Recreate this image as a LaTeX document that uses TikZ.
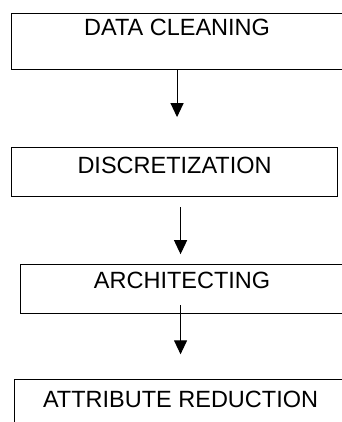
\documentclass[tikz,border=0pt]{standalone}
\usepackage{fontspec}
\setmainfont{Liberation Sans}
\usetikzlibrary{positioning,arrows.meta}

\tikzset{
  stage/.style={draw, rectangle, line width=1.1pt, inner sep=0pt,
    font=\fontsize{23.5}{28}\selectfont},
  flow/.style={draw, line width=1.1pt, -{Triangle[width=13pt,length=14pt]}}
}

\begin{document}
\begin{tikzpicture}[x=1pt, y=-1pt]

  \useasboundingbox (0,0) rectangle (341,422);

  \node[stage, minimum width=331pt, text height=21.5pt, text depth=34.5pt,
    anchor=north west] (clean) at (11,13) {DATA CLEANING};
  \node[stage, minimum width=326pt, text height=26pt, text depth=23pt]
    (discr) [below=77pt of clean.south west, anchor=north west] {DISCRETIZATION};
  \node[stage, minimum width=323pt, text height=24pt, text depth=25pt]
    (arch) [below=67pt of discr.south west, xshift=9pt, anchor=north west] {ARCHITECTING};
  \node[stage, minimum width=332pt, text height=27.5pt, text depth=37pt]
    (reduct) [below=65pt of arch.south west, xshift=-6pt, anchor=north west] {ATTRIBUTE REDUCTION};

  \draw[flow, shorten >=30pt] (clean.south) -- (clean.south |- discr.north);
  \draw[flow, shorten <=10pt, shorten >=10pt]
    ([xshift=6pt]discr.south) -- ([xshift=6pt]discr.south |- arch.north);
  \draw[flow, shorten <=-9pt, shorten >=25pt]
    ([xshift=-1.5pt]arch.south) -- ([xshift=-1.5pt]arch.south |- reduct.north);

\end{tikzpicture}
\end{document}
